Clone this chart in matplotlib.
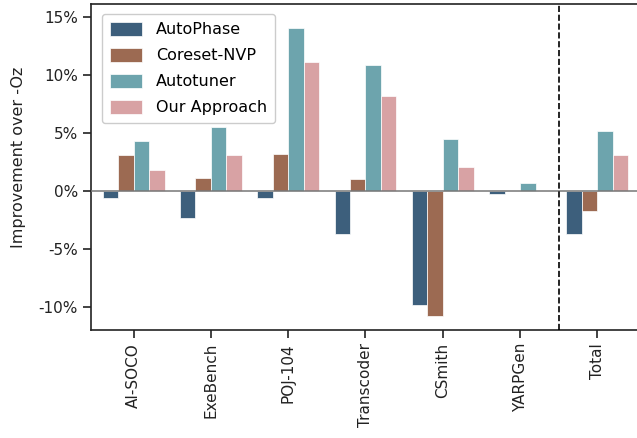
import numpy as np
import matplotlib
matplotlib.use("Agg")
import matplotlib.pyplot as plt
from matplotlib.ticker import FuncFormatter

# ── Data (improvement over -Oz, in %) ─────────────────────────────────────────
benchmarks = ["AI-SOCO", "ExeBench", "POJ-104", "Transcoder", "CSmith", "YARPGen", "Total"]
methods = ["AutoPhase", "Coreset-NVP", "Autotuner", "Our Approach"]

autophase = [-0.63, -2.36, -0.63, -3.71, -9.88, -0.28, -3.71]
coreset_nvp = [3.05, 1.07, 3.16, 0.98, -10.78, 0.0, -1.78]
autotuner = [4.31, 5.46, 14.0, 10.8, 4.43, 0.63, 5.14]
our_approach = [1.78, 3.05, 11.1, 8.2, 2.03, 0.0, 3.05]

series = [autophase, coreset_nvp, autotuner, our_approach]
colors = ["#3d5f7c", "#9c6a52", "#6da4ad", "#d8a2a4"]

# ── Plot ──────────────────────────────────────────────────────────────────────
fig = plt.figure(figsize=(6.37, 4.38), dpi=100)
ax = fig.add_axes([0.143, 0.247, 0.87, 0.744])

x = np.arange(len(benchmarks))
width = 0.2
for i, (vals, name, col) in enumerate(zip(series, methods, colors)):
    ax.bar(x + (i - 1.5) * width, vals, width, color=col, label=name,
           edgecolor="white", linewidth=0.5, zorder=2)

ax.axhline(0, color="#777777", linewidth=1.1, zorder=3)
ax.axvline(5.5, color="black", linestyle="--", linewidth=1.2, zorder=3)

ax.set_xlim(-0.55, 6.62)
ax.set_ylim(-12, 16.1)
ax.set_yticks([-10, -5, 0, 5, 10, 15])
ax.yaxis.set_major_formatter(FuncFormatter(lambda v, p: f"{int(v)}%"))
ax.set_xticks(x)
ax.set_xticklabels(benchmarks, rotation=90)
ax.tick_params(labelsize=11, length=6, width=1.2, colors="#222222")
ax.set_ylabel("Improvement over -Oz", fontsize=11.5, color="#222222")
ax.yaxis.set_label_coords(-0.118, 0.53)

for spine in ax.spines.values():
    spine.set_linewidth(1.2)
    spine.set_color("#222222")
ax.spines["right"].set_visible(False)

ax.legend(loc="upper left", fontsize=11.5, handlelength=2.0, handleheight=1.0,
          borderpad=0.5, labelspacing=0.65, handletextpad=0.9,
          framealpha=1.0, edgecolor="#cccccc", bbox_to_anchor=(0.005, 0.995))

fig.savefig("out.png", dpi=100)
